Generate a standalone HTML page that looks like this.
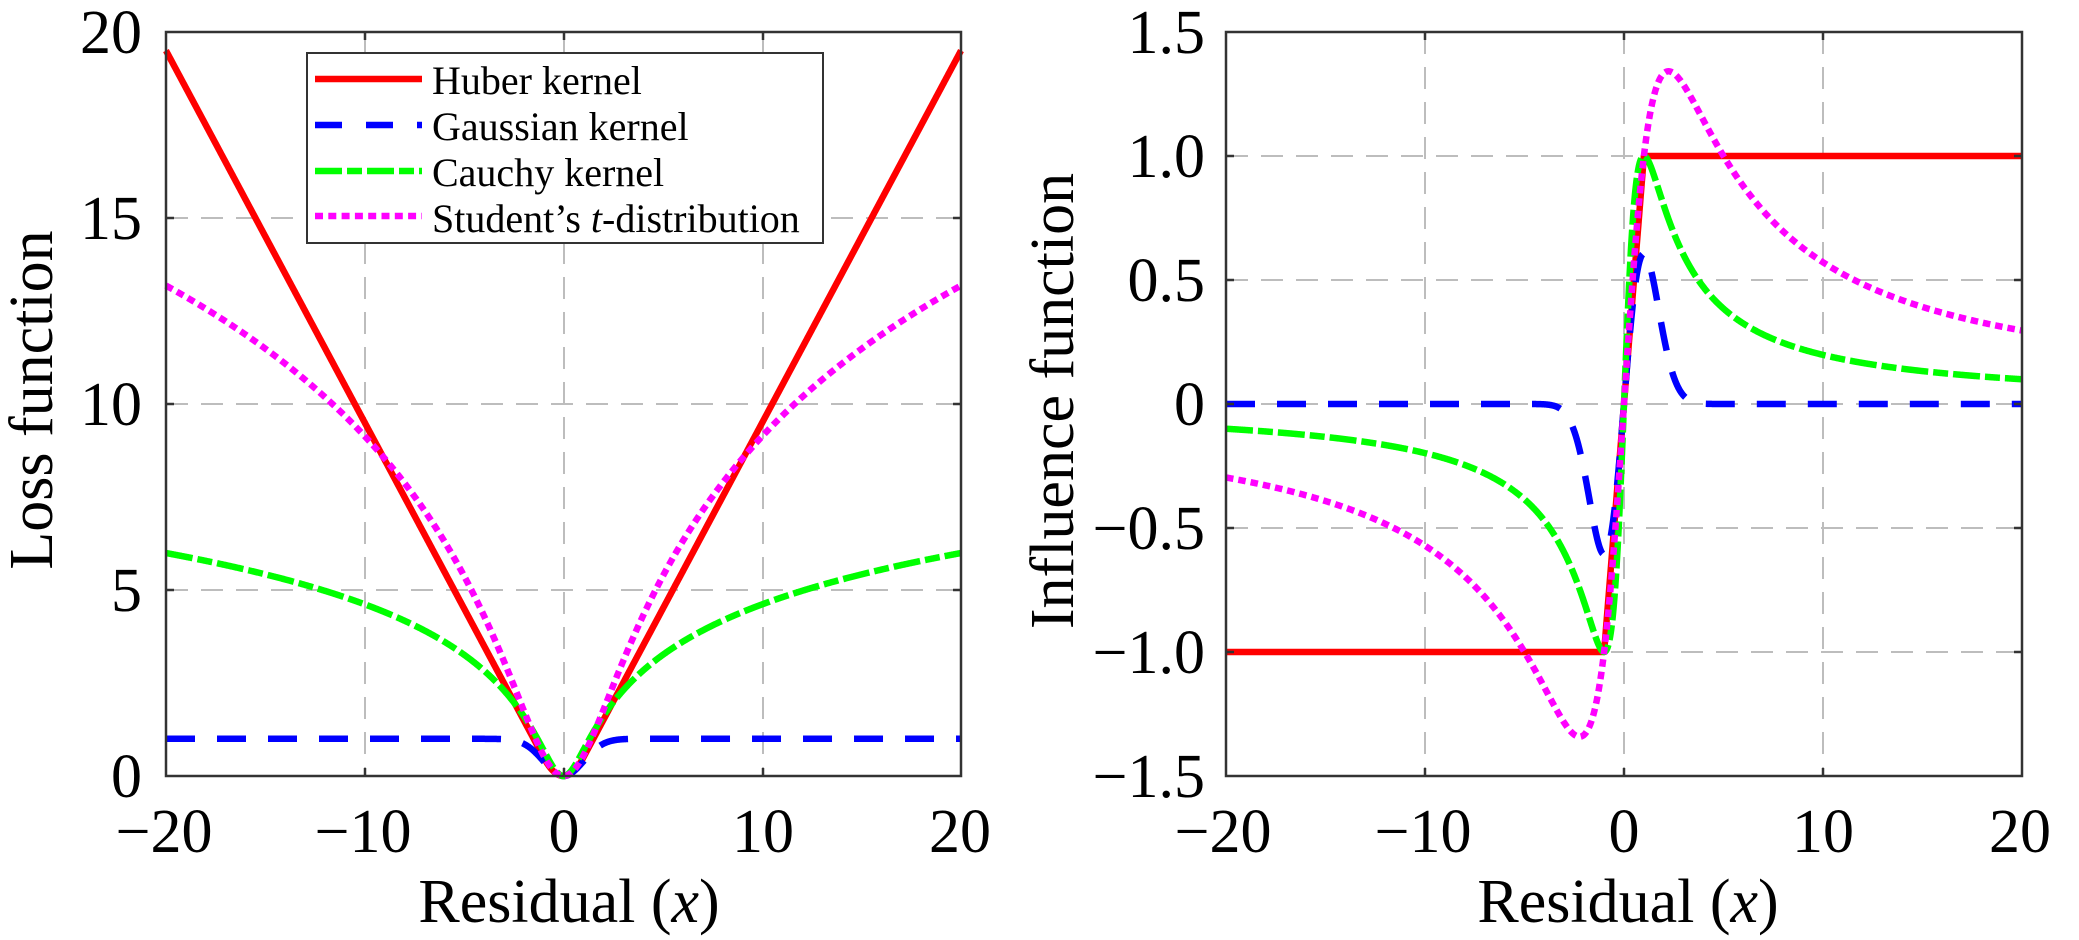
<!DOCTYPE html>
<html>
<head>
<meta charset="utf-8">
<style>
  html,body{margin:0;padding:0;background:#fff;}
  svg{display:block;}
  text{font-family:"Liberation Serif","Times New Roman",serif;fill:#000;}
</style>
</head>
<body>
<svg id="s" width="2079" height="940" viewBox="0 0 2079 940" xmlns="http://www.w3.org/2000/svg">
  <rect x="0" y="0" width="2079" height="940" fill="#fff"/>

  <!-- grid left -->
  <g stroke="#bdbdbd" stroke-width="2" stroke-dasharray="22,13" fill="none">
    <line x1="365" y1="32" x2="365" y2="776"/>
    <line x1="564" y1="32" x2="564" y2="776"/>
    <line x1="763" y1="32" x2="763" y2="776"/>
    <line x1="166" y1="218" x2="961" y2="218"/>
    <line x1="166" y1="404" x2="961" y2="404"/>
    <line x1="166" y1="590" x2="961" y2="590"/>
  </g>
  <!-- grid right -->
  <g stroke="#bdbdbd" stroke-width="2" stroke-dasharray="22,13" fill="none">
    <line x1="1425" y1="32" x2="1425" y2="776"/>
    <line x1="1624" y1="32" x2="1624" y2="776"/>
    <line x1="1823" y1="32" x2="1823" y2="776"/>
    <line x1="1226" y1="156" x2="2022" y2="156"/>
    <line x1="1226" y1="280" x2="2022" y2="280"/>
    <line x1="1226" y1="404" x2="2022" y2="404"/>
    <line x1="1226" y1="528" x2="2022" y2="528"/>
    <line x1="1226" y1="652" x2="2022" y2="652"/>
  </g>

  <!-- data -->
  <g fill="none" stroke-width="6.5" stroke-linejoin="round">
    <path id="lh" stroke="#ff0000"/>
    <path id="lg" stroke="#0000ff" stroke-dasharray="29,22"/>
    <path id="lc" stroke="#00ff00" stroke-dasharray="27,5,15,5"/>
    <path id="ls" stroke="#ff00ff" stroke-dasharray="7.5,5"/>
    <path id="rh" stroke="#ff0000"/>
    <path id="rg" stroke="#0000ff" stroke-dasharray="29,22"/>
    <path id="rc" stroke="#00ff00" stroke-dasharray="27,5,15,5"/>
    <path id="rs" stroke="#ff00ff" stroke-dasharray="7.5,5"/>
  </g>

  <!-- axes left -->
  <g stroke="#333" stroke-width="2.5" fill="none">
    <rect x="166" y="32" width="795" height="744"/>
    <path d="M365,776v-8 M564,776v-8 M763,776v-8 M365,32v8 M564,32v8 M763,32v8
             M166,218h8 M166,404h8 M166,590h8 M961,218h-8 M961,404h-8 M961,590h-8"/>
  </g>
  <!-- axes right -->
  <g stroke="#333" stroke-width="2.5" fill="none">
    <rect x="1226" y="32" width="796" height="744"/>
    <path d="M1425,776v-8 M1624,776v-8 M1823,776v-8 M1425,32v8 M1624,32v8 M1823,32v8
             M1226,156h8 M1226,280h8 M1226,404h8 M1226,528h8 M1226,652h8
             M2022,156h-8 M2022,280h-8 M2022,404h-8 M2022,528h-8 M2022,652h-8"/>
  </g>

  <!-- legend -->
  <rect x="307" y="53" width="516" height="190" fill="#fff" stroke="#333" stroke-width="2"/>
  <g fill="none" stroke-width="6.5">
    <line x1="315" y1="79" x2="422" y2="79" stroke="#ff0000"/>
    <line x1="315" y1="125" x2="422" y2="125" stroke="#0000ff" stroke-dasharray="27,24"/>
    <line x1="315" y1="171" x2="422" y2="171" stroke="#00ff00" stroke-dasharray="27,5,15,5"/>
    <line x1="315" y1="216" x2="422" y2="216" stroke="#ff00ff" stroke-dasharray="8,5.3"/>
  </g>
  <g font-size="40">
    <text x="432" y="94">Huber kernel</text>
    <text x="432" y="140">Gaussian kernel</text>
    <text x="432" y="186">Cauchy kernel</text>
    <text x="432" y="232">Student’s <tspan font-style="italic">t</tspan>-distribution</text>
  </g>

  <!-- left tick labels -->
  <g font-size="62" text-anchor="end">
    <text x="142" y="53">20</text>
    <text x="142" y="239">15</text>
    <text x="142" y="425">10</text>
    <text x="142" y="611">5</text>
    <text x="142" y="797">0</text>
  </g>
  <g font-size="62" text-anchor="middle">
    <text x="164" y="852">−20</text>
    <text x="363" y="852">−10</text>
    <text x="564" y="852">0</text>
    <text x="763" y="852">10</text>
    <text x="960" y="852">20</text>
  </g>
  <text font-size="62" text-anchor="middle" x="569" y="922">Residual (<tspan font-style="italic">x</tspan>)</text>
  <text font-size="62" text-anchor="middle" transform="translate(52,400) rotate(-90)">Loss function</text>

  <!-- right tick labels -->
  <g font-size="62" text-anchor="end">
    <text x="1205" y="53">1.5</text>
    <text x="1205" y="177">1.0</text>
    <text x="1205" y="301">0.5</text>
    <text x="1205" y="425">0</text>
    <text x="1205" y="549">−0.5</text>
    <text x="1205" y="673">−1.0</text>
    <text x="1205" y="797">−1.5</text>
  </g>
  <g font-size="62" text-anchor="middle">
    <text x="1223" y="852">−20</text>
    <text x="1423" y="852">−10</text>
    <text x="1624" y="852">0</text>
    <text x="1823" y="852">10</text>
    <text x="2020" y="852">20</text>
  </g>
  <text font-size="62" text-anchor="middle" x="1628" y="922">Residual (<tspan font-style="italic">x</tspan>)</text>
  <text font-size="62" text-anchor="middle" transform="translate(1073,401) rotate(-90)">Influence function</text>
</svg>
<script>
(function(){
  function LX(v){return 166+(v+20)*19.875;}
  function LY(u){return 776-u*37.2;}
  function RX(v){return 1226+(v+20)*19.9;}
  function RY(u){return 404-u*248;}
  function mk(f,X,Y){
    var d='',n=1600;
    for(var i=0;i<=n;i++){
      var v=-20+40*i/n;
      d+=(i?'L':'M')+X(v).toFixed(2)+','+Y(f(v)).toFixed(2);
    }
    return d;
  }
  var F={
    lh:function(v){var a=Math.abs(v);return a<=1?v*v/2:a-0.5;},
    lg:function(v){return 1-Math.exp(-v*v/2);},
    lc:function(v){return Math.log(1+v*v);},
    ls:function(v){return 3*Math.log(1+v*v/5);},
    rh:function(v){return Math.max(-1,Math.min(1,v));},
    rg:function(v){return v*Math.exp(-v*v/2);},
    rc:function(v){return 2*v/(1+v*v);},
    rs:function(v){return 6*v/(5+v*v);}
  };
  ['lh','lg','lc','ls'].forEach(function(k){document.getElementById(k).setAttribute('d',mk(F[k],LX,LY));});
  ['rh','rg','rc','rs'].forEach(function(k){document.getElementById(k).setAttribute('d',mk(F[k],RX,RY));});
})();
</script>
</body>
</html>
